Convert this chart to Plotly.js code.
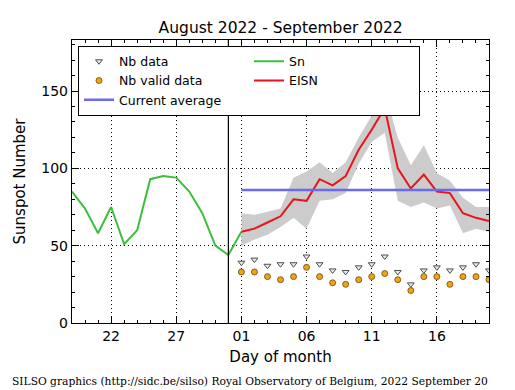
<!DOCTYPE html>
<html>
<head>
<meta charset="utf-8">
<script src="https://cdn.plot.ly/plotly-3.0.1.min.js"></script>
<style>html,body{margin:0;padding:0;background:#fff;}#chart{width:515px;height:390px;}</style>
</head>
<body>
<div id="chart"></div>
<script>
// Daily sunspot number (Sn), end of previous month
const snDates = ['2022-08-19','2022-08-20','2022-08-21','2022-08-22','2022-08-23','2022-08-24','2022-08-25',
  '2022-08-26','2022-08-27','2022-08-28','2022-08-29','2022-08-30','2022-08-31','2022-09-01'];
const snValues = [85, 74, 58, 75, 51, 60, 93, 95, 94, 85, 71, 50, 44, 59];

// Estimated international sunspot number (EISN), current month
const eisnDates = ['2022-09-01','2022-09-02','2022-09-03','2022-09-04','2022-09-05','2022-09-06','2022-09-07',
  '2022-09-08','2022-09-09','2022-09-10','2022-09-11','2022-09-12','2022-09-13','2022-09-14','2022-09-15',
  '2022-09-16','2022-09-17','2022-09-18','2022-09-19','2022-09-20'];
const eisnValues = [59, 61, 65, 69, 80, 79, 93, 89, 95, 112, 125, 139, 100, 87, 96, 85, 84, 71, 68, 66];
const eisnUpper  = [71, 70, 72, 74, 94, 98, 104, 97, 104, 120, 134, 150, 120, 102, 115, 97, 92, 81, 75, 75];
const eisnLower  = [50, 54, 57, 62, 68, 61, 79, 80, 84, 103, 117, 123, 79, 75, 78, 74, 76, 58, 61, 59];

// Number of stations
const nbData  = [39, 41, 37, 38, 38, 43, 38, 34, 33, 36, 38, 43, 33, 25, 34, 36, 34, 36, 38, 34];
const nbValid = [33, 33, 30, 28, 30, 36, 30, 26, 25, 28, 30, 32, 28, 21, 30, 30, 25, 30, 30, 28];

const currentAverage = 86;
const monthBoundary = '2022-08-31';
const xRange = ['2022-08-19', '2022-09-20'];
const yRange = [0, 183];

const avgX = [eisnDates[0], eisnDates[eisnDates.length - 1]];
const avgY = avgX.map(() => currentAverage);

const traces = [
  {x: eisnDates, y: eisnLower, type: 'scatter', mode: 'lines', line: {width: 0, color: 'rgba(0,0,0,0)'},
   showlegend: false, hoverinfo: 'skip'},
  {x: eisnDates, y: eisnUpper, type: 'scatter', mode: 'lines', line: {width: 0, color: 'rgba(0,0,0,0)'},
   fill: 'tonexty', fillcolor: '#cccccc', showlegend: false, hoverinfo: 'skip'},
  {x: eisnDates, y: nbData, type: 'scatter', mode: 'markers', name: 'Nb data', legendrank: 1,
   marker: {symbol: 'triangle-down', size: 6, color: '#e8e8e8', line: {color: '#505050', width: 1}}},
  {x: snDates, y: snValues, type: 'scatter', mode: 'lines', name: 'Sn', legendrank: 2,
   line: {color: '#3cbf3c', width: 2}},
  {x: eisnDates, y: nbValid, type: 'scatter', mode: 'markers', name: 'Nb valid data', legendrank: 3,
   marker: {symbol: 'circle', size: 6, color: '#f0a21e', line: {color: '#6b4a00', width: 0.8}}},
  {x: eisnDates, y: eisnValues, type: 'scatter', mode: 'lines', name: 'EISN', legendrank: 4,
   line: {color: '#e8141a', width: 2}},
  {x: avgX, y: avgY, type: 'scatter', mode: 'lines', name: 'Current average', legendrank: 5,
   line: {color: '#6a6af0', width: 2.5}}
];

const axisFont = {family: 'DejaVu Sans', size: 14, color: '#000'};

const layout = {
  width: 515, height: 390,
  margin: {l: 72, r: 26, t: 40, b: 67},
  paper_bgcolor: '#ffffff', plot_bgcolor: '#ffffff',
  font: {family: 'DejaVu Sans', color: '#000'},
  title: {text: 'August 2022 - September 2022', font: {family: 'DejaVu Sans', size: 15.5, color: '#000'},
    x: 0.545, xanchor: 'center', y: 0.93, yanchor: 'middle'},
  xaxis: {
    type: 'date', range: xRange,
    tick0: '2022-08-22', dtick: 5 * 86400000, tickformat: '%d',
    ticks: 'inside', ticklen: 7, tickcolor: '#000', tickwidth: 1,
    minor: {dtick: 86400000, ticks: 'inside', ticklen: 3, tickcolor: '#000', showgrid: false},
    showline: true, linecolor: '#000', linewidth: 1.2, mirror: 'ticks',
    showgrid: true, gridcolor: '#000', gridwidth: 1, griddash: '1px,3px',
    zeroline: false, tickfont: axisFont,
    title: {text: 'Day of month', font: {family: 'DejaVu Sans', size: 15, color: '#000'}, standoff: 8}
  },
  yaxis: {
    range: yRange, dtick: 50, tick0: 0,
    ticks: 'inside', ticklen: 7, tickcolor: '#000', tickwidth: 1,
    minor: {dtick: 10, ticks: 'inside', ticklen: 3, tickcolor: '#000', showgrid: false},
    showline: true, linecolor: '#000', linewidth: 1.2, mirror: 'ticks',
    showgrid: true, gridcolor: '#000', gridwidth: 1, griddash: '1px,3px',
    zeroline: false, tickfont: axisFont,
    title: {text: 'Sunspot Number', font: {family: 'DejaVu Sans', size: 15, color: '#000'}, standoff: 12}
  },
  legend: {
    orientation: 'h', x: 0.0144, y: 0.98, xanchor: 'left', yanchor: 'top',
    entrywidth: 125, entrywidthmode: 'pixels', traceorder: 'normal',
    bgcolor: '#ffffff', bordercolor: '#000', borderwidth: 1,
    font: {family: 'DejaVu Sans', size: 12.5, color: '#000'},
    tracegroupgap: 0, itemwidth: 30
  },
  shapes: [{type: 'line', xref: 'x', yref: 'paper', x0: monthBoundary, x1: monthBoundary, y0: 0, y1: 1,
    line: {color: '#000', width: 1.2}}],
  annotations: [{text: 'SILSO graphics (http://sidc.be/silso) Royal Observatory of Belgium, 2022 September 20',
    xref: 'paper', yref: 'paper', x: 1.003, y: -0.205, xanchor: 'right', yanchor: 'middle', showarrow: false,
    font: {family: 'DejaVu Serif', size: 10.7, color: '#000'}}]
};

Plotly.newPlot('chart', traces, layout, {displayModeBar: false, staticPlot: true});
</script>
</body>
</html>
